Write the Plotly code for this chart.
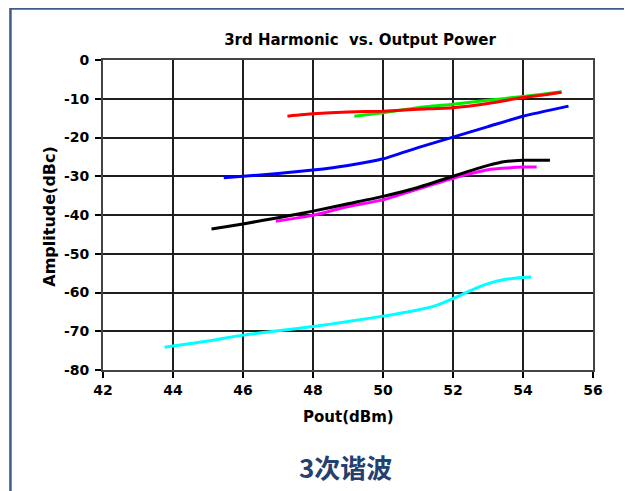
import plotly.graph_objects as go

# ---- data ----
red_x = [47.27, 48, 49, 50, 51, 52, 53, 54, 54.6, 55.1]
red_y = [-14.5, -13.9, -13.4, -13.2, -12.7, -12.3, -11.2, -9.7, -9.0, -8.3]

green_x = [49.18, 50, 51, 52, 53, 54, 54.6, 55.1]
green_y = [-14.5, -13.6, -12.3, -11.4, -10.4, -9.4, -8.8, -8.2]

blue_x = [45.45, 46, 47, 48, 49, 50, 51, 52, 53, 54, 55.3]
blue_y = [-30.4, -30.0, -29.3, -28.4, -27.2, -25.5, -22.6, -19.9, -17.2, -14.5, -11.9]

black_x = [45.1, 46, 47, 48, 49, 50, 51, 52, 53, 53.5, 54, 54.77]
black_y = [-43.6, -42.3, -40.7, -39.0, -37.1, -35.2, -32.9, -30.0, -27.2, -26.2, -25.9, -25.9]

magenta_x = [46.94, 48, 49, 50, 51, 52, 53, 54, 54.39]
magenta_y = [-41.6, -40.1, -37.8, -36.1, -33.3, -30.5, -28.3, -27.6, -27.6]

cyan_x = [43.76, 44, 45, 46, 47, 48, 49, 50, 51, 51.5, 52, 52.5, 53, 53.5, 54, 54.24]
cyan_y = [-74.1, -73.8, -72.5, -71.0, -69.9, -68.8, -67.5, -66.1, -64.5, -63.4,
          -61.6, -59.5, -57.7, -56.6, -56.1, -56.0]

x_ticks = [42, 44, 46, 48, 50, 52, 54, 56]
y_ticks = [0, -10, -20, -30, -40, -50, -60, -70, -80]

title_text = "3rd Harmonic  vs. Output Power"
x_title = "Pout(dBm)"
y_title = "Amplitude(dBc)"
caption = "3次谐波"

series = [
    (cyan_x, cyan_y, "#00FFFF"),
    (magenta_x, magenta_y, "#FF00FF"),
    (black_x, black_y, "#000000"),
    (blue_x, blue_y, "#0000FF"),
    (green_x, green_y, "#00EE00"),
    (red_x, red_y, "#FF0000"),
]

FONT = "DejaVu Sans"
OFF = 8  # page body margin offset

fig = go.Figure()
for xs, ys, col in series:
    fig.add_trace(go.Scatter(x=xs, y=ys, mode="lines",
                             line=dict(color=col, width=3, shape="spline", smoothing=0.5),
                             showlegend=False, hoverinfo="skip"))

W, H = 632, 491
# target plot box in page pixels: left 103, right 592.7, top 60, bottom 370.5
L = 103 - OFF
T = 60 - OFF
R = W - (592.7 - OFF)
B = H - (370.5 - OFF)
pw = W - L - R
ph = H - T - B

def px(xp):
    return (xp - OFF - L) / pw

def py(yp):
    return (H - B - (yp - OFF)) / ph

fig.update_layout(
    width=W, height=H,
    margin=dict(l=L, r=R, t=T, b=B),
    paper_bgcolor="white", plot_bgcolor="white",
    showlegend=False,
    title=dict(text=title_text, x=(360 - OFF) / W, xanchor="center", xref="container",
               y=1 - (40 - OFF) / H, yanchor="middle", yref="container",
               font=dict(family=FONT, size=15, color="black", weight="bold")),
)
fig.update_xaxes(range=[42, 56], tickvals=x_ticks, ticktext=[str(v) for v in x_ticks],
                 showgrid=True, gridcolor="#1e1e1e", gridwidth=2,
                 showline=True, linecolor="#444444", linewidth=2, mirror=True,
                 ticks="outside", ticklen=6, tickwidth=1.5, tickcolor="black",
                 zeroline=False,
                 tickfont=dict(family=FONT, size=14, color="black", weight="bold"))
fig.update_yaxes(range=[-80, 0], tickvals=y_ticks, ticktext=[str(v) for v in y_ticks],
                 showgrid=True, gridcolor="#1e1e1e", gridwidth=2,
                 showline=True, linecolor="#444444", linewidth=2, mirror=True,
                 ticks="outside", ticklen=6, tickwidth=1.5, tickcolor="black",
                 zeroline=False, ticklabelstandoff=3,
                 tickfont=dict(family=FONT, size=14, color="black", weight="bold"))

# axis titles and caption
fig.add_annotation(text=y_title, xref="paper", yref="paper", x=px(50), y=py(216),
                   textangle=-90, showarrow=False, xanchor="center", yanchor="middle",
                   font=dict(family=FONT, size=16, color="black", weight="bold"))
fig.add_annotation(text=x_title, xref="paper", yref="paper", x=px(348), y=py(418),
                   showarrow=False, xanchor="center", yanchor="middle",
                   font=dict(family=FONT, size=15, color="black", weight="bold"))
fig.add_annotation(text=caption, xref="paper", yref="paper", x=px(345), y=py(467),
                   showarrow=False, xanchor="center", yanchor="middle",
                   font=dict(family="Noto Sans CJK SC", size=26, color="#24406E", weight="bold"))

# outer slide frame
fig.add_shape(type="rect", xref="paper", yref="paper",
              x0=px(10.5), x1=px(700), y0=py(560), y1=py(8.5),
              line=dict(color="#3E5C88", width=2.5), fillcolor="rgba(0,0,0,0)", layer="above")
# small box at left edge
fig.add_shape(type="rect", xref="paper", yref="paper",
              x0=px(-5), x1=px(3), y0=py(266), y1=py(134),
              line=dict(color="#7a7a7a", width=1), fillcolor="rgba(0,0,0,0)", layer="above")

fig.write_html("out.html")
